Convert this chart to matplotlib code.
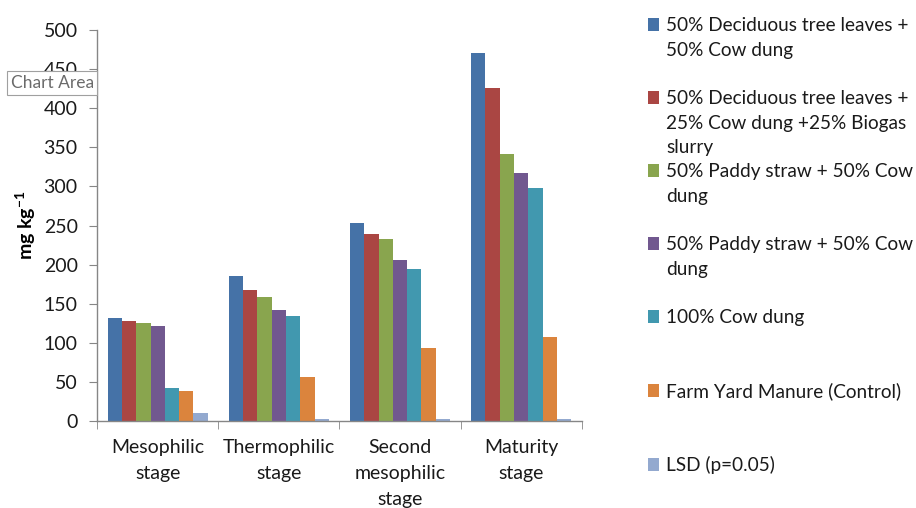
import matplotlib
matplotlib.use("Agg")
import matplotlib.pyplot as plt
import numpy as np
from matplotlib.patches import Patch

plt.rcParams['font.family'] = ['Lato', 'DejaVu Sans']
plt.rcParams['mathtext.fontset'] = 'custom'
plt.rcParams['mathtext.rm'] = 'Lato'
plt.rcParams['mathtext.bf'] = 'Lato:bold'

stages = ["Mesophilic\nstage", "Thermophilic\nstage", "Second\nmesophilic\nstage", "Maturity\nstage"]

treatments = [
    "50% Deciduous tree leaves +\n50% Cow dung",
    "50% Deciduous tree leaves +\n25% Cow dung +25% Biogas\nslurry",
    "50% Paddy straw + 50% Cow\ndung",
    "50% Paddy straw + 50% Cow\ndung",
    "100% Cow dung",
    "Farm Yard Manure (Control)",
    "LSD (p=0.05)",
]

values = [
    [132, 186, 253, 470],   # 50% DTL + 50% CD
    [128, 167, 239, 426],   # 50% DTL + 25% CD + 25% BS
    [125, 159, 233, 342],   # 50% PS + 50% CD
    [121, 142, 206, 317],   # 50% PS + 50% CD
    [42, 135, 195, 298],    # 100% CD
    [39, 57, 93, 108],      # FYM (control)
    [10, 3, 3, 3],          # LSD
]

colors = ["#4572A7", "#AA4643", "#89A54E", "#71588F", "#4198AF", "#DB843D", "#93A9CF"]

# blank rows between legend entries (Excel-style uneven spacing)
legend_gaps = [1, 0, 1, 1, 2, 2, 0]

fig = plt.figure(figsize=(9.16, 5.08), dpi=100)
ax = fig.add_axes([0.106, 0.171, 0.529, 0.770])

x = np.arange(len(stages))
bw = 0.118
n = len(values)
for i, (vals, col) in enumerate(zip(values, colors)):
    ax.bar(x + (i - (n - 1) / 2) * bw, vals, width=bw, color=col, edgecolor='none')

ax.set_xlim(-0.5, len(stages) - 0.5)
ax.set_ylim(0, 500)
ax.set_yticks(np.arange(0, 501, 50))

ax.set_xticks(x)
ax.set_xticklabels(stages, fontsize=14, linespacing=1.62, color='#1a1a1a')
ax.set_xticks(np.arange(-0.5, len(stages), 1.0), minor=True)
ax.tick_params(axis='x', which='major', length=0, pad=13)
ax.tick_params(axis='x', which='minor', length=6, color='#868686', direction='out')
ax.tick_params(axis='y', length=6, color='#868686', direction='out', pad=8,
               labelsize=14, labelcolor='#1a1a1a')

for s in ['top', 'right']:
    ax.spines[s].set_visible(False)
for s in ['left', 'bottom']:
    ax.spines[s].set_color('#868686')
    ax.spines[s].set_linewidth(1.0)

ax.set_ylabel(r'mg kg$^{\mathbf{-1}}$', fontsize=14, fontweight='bold')
ax.yaxis.set_label_coords(-0.122, 0.5)

# legend: one row per text line, swatch on the first line of each entry
blank = Patch(facecolor='none', edgecolor='none')
handles, labels = [], []
for lab, col, gap in zip(treatments, colors, legend_gaps):
    lines = lab.split("\n")
    handles.append(Patch(facecolor=col, edgecolor='none'))
    labels.append(lines[0])
    for ln in lines[1:]:
        handles.append(blank)
        labels.append(ln)
    for _ in range(gap):
        handles.append(blank)
        labels.append(" ")

leg = fig.legend(handles, labels, loc='upper left', bbox_to_anchor=(0.707, 0.966),
                 frameon=False, fontsize=13.7, handlelength=0.62, handleheight=0.62,
                 handletextpad=0.35, labelspacing=0.385, borderaxespad=0, borderpad=0)
for t in leg.get_texts():
    t.set_color('#1a1a1a')

fig.text(0.0115, 0.836, "Chart Area", fontsize=12.5, color='#6b6b6b', ha='left', va='center',
         bbox=dict(boxstyle='square,pad=0.22', facecolor='white', edgecolor='#a0a0a0', linewidth=0.8))

fig.savefig("out.png", dpi=100)
